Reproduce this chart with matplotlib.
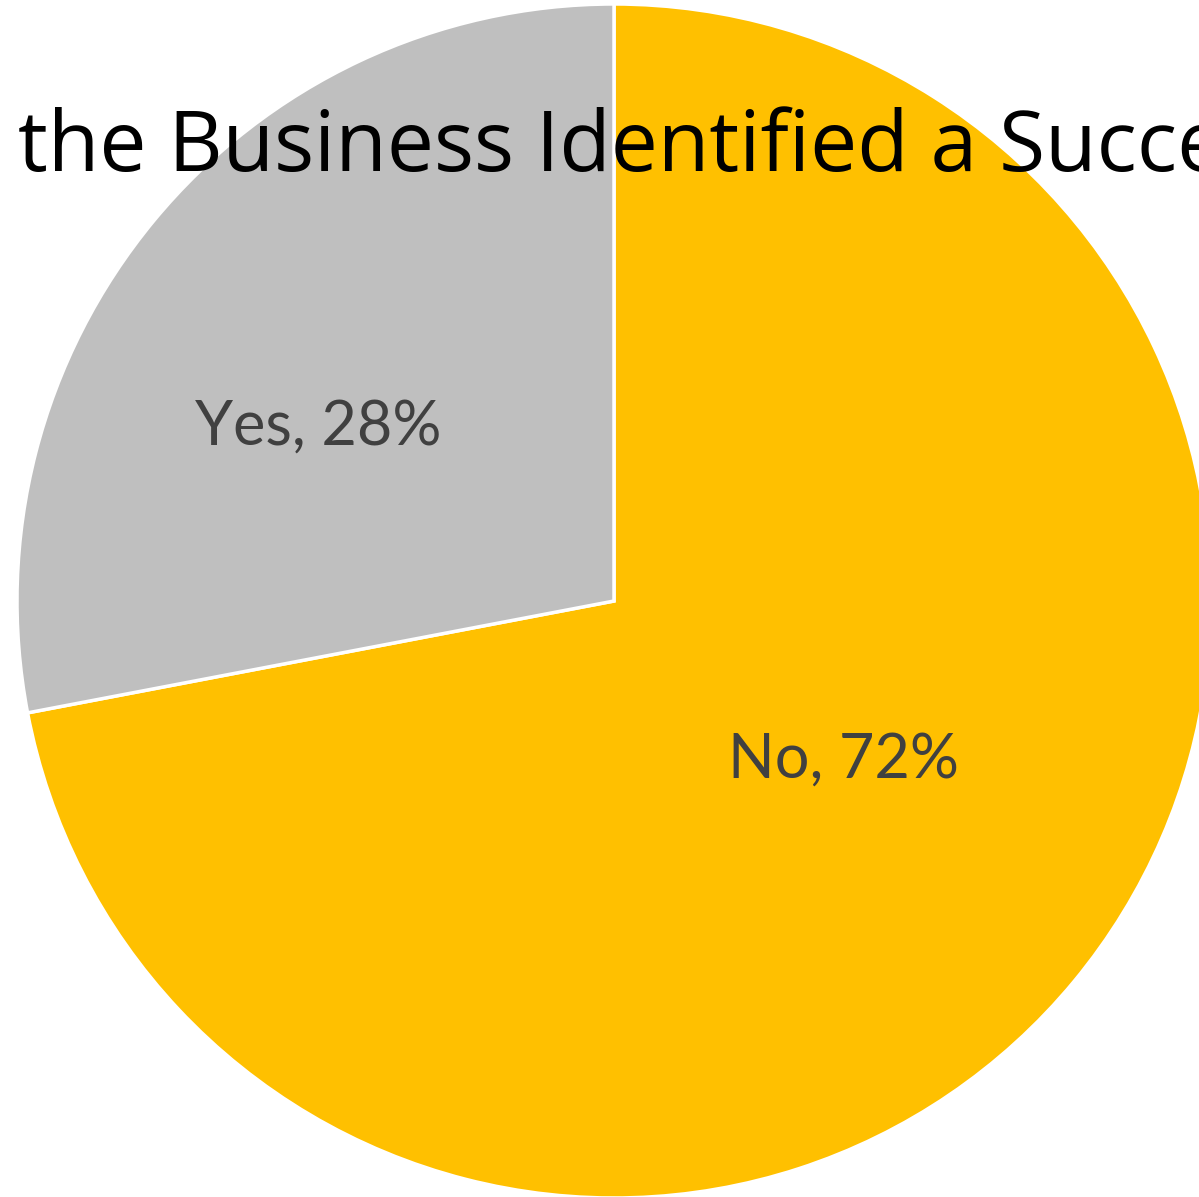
import matplotlib
matplotlib.use("Agg")
import matplotlib.pyplot as plt

# answers and their shares
labels = ["No", "Yes"]
shares = [72, 28]
colors = ["#FFC000", "#BFBFBF"]
title = "the Business Identified a Successor?"

W, H = 1199, 1197
fig = plt.figure(figsize=(W / 100, H / 100), dpi=100)
ax = fig.add_axes([0, 0, 1, 1])

wedges, _ = ax.pie(shares, colors=colors, startangle=90, counterclock=False,
                   center=(614, H - 601), radius=597,
                   wedgeprops=dict(edgecolor="white", linewidth=2.5))
ax.set_xlim(0, W)
ax.set_ylim(0, H)
ax.set_aspect("equal")
ax.axis("off")

# data labels inside the slices
ax.text(318, H - 427, f"{labels[1]}, {shares[1]}%", ha="center", va="center",
        fontsize=44, color="#404040", family="Lato")
ax.text(843, H - 760, f"{labels[0]}, {shares[0]}%", ha="center", va="center",
        fontsize=44, color="#404040", family="Lato")

# title runs past the edges of the figure
ax.text(18, H - 171, title, ha="left", va="baseline",
        fontsize=60.5, color="black", family="Open Sans")

fig.savefig("out.png", dpi=100)
